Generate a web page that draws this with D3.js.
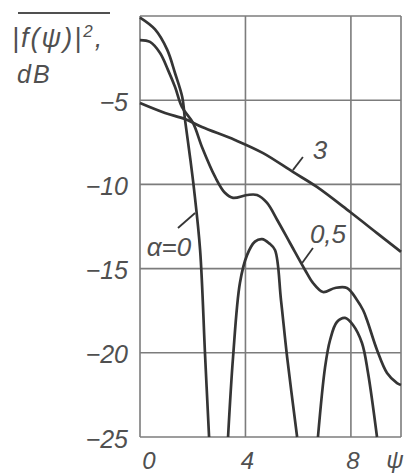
<!DOCTYPE html>
<html>
<head>
<meta charset="utf-8">
<script src="https://cdn.jsdelivr.net/npm/d3@7"></script>
<style>
  html, body { margin: 0; padding: 0; background: #fff; }
  svg { display: block; }
  text { font-family: "Liberation Sans", Arial, sans-serif; font-style: italic; fill: #505050; }
</style>
</head>
<body>
<svg id="chart" width="404" height="475"></svg>
<script>
// ticks
const xTicks = [0, 4, 8];
const yTicks = [-5, -10, -15, -20, -25];
const yGrid = [0, -5, -10, -15, -20, -25];

// alpha = 0, main lobe and two side lobes (cut at -25 dB)
const a0MainPsi = [0, 0.57, 1.03, 1.33, 1.6, 1.71, 1.9, 2.05, 2.28, 2.47, 2.62];
const a0MainDb  = [-0.1, -0.8, -2.0, -3.4, -4.8, -6.2, -8.4, -10.3, -13.9, -20.2, -25];
const a0Lobe1Psi = [3.34, 3.53, 3.79, 4.06, 4.36, 4.63, 4.9, 5.12, 5.35, 5.58, 5.96];
const a0Lobe1Db  = [-25, -20.25, -15.85, -14.2, -13.4, -13.25, -13.5, -13.9, -16.9, -20.25, -25];
const a0Lobe2Psi = [6.75, 7.02, 7.21, 7.47, 7.78, 8.08, 8.42, 8.65, 8.99];
const a0Lobe2Db  = [-25, -20.85, -19.24, -18.17, -17.93, -18.35, -19.42, -21.2, -25];

// alpha = 0.5
const a05Psi = [0, 0.38, 0.76, 1.06, 1.33, 1.59, 2.01, 2.35, 2.85, 3.22, 3.53, 4.06, 4.44, 4.82, 5.2,
                5.69, 6.26, 6.56, 6.94, 7.4, 7.85, 8.23, 8.46, 8.61, 8.99, 9.37, 9.75, 9.9];
const a05Db  = [-1.43, -1.54, -2.2, -3.2, -4.22, -5.4, -6.35, -7.78, -9.56, -10.5, -10.8, -10.63, -10.63, -11.1, -12.1,
                -13.48, -15.08, -15.85, -16.39, -16.15, -16.15, -16.86, -17.46, -18.05, -19.83, -21.2, -21.8, -21.91];

// alpha = 3
const a3Psi = [0, 0.95, 1.71, 2.35, 3.6, 4.67, 5.8, 6.71, 7.97, 8.99, 9.9];
const a3Db  = [-5.17, -5.76, -6.12, -6.59, -7.36, -8.14, -9.26, -10.15, -11.64, -12.89, -14.01];

// curve labels: text, label position, leader start, leader end (psi, dB)
const curveLabels = ["α=0", "0,5", "3"];
const labelPsi = [1.1, 7.13, 6.83];
const labelDb  = [-13.7, -12.95, -7.96];
const leaderPsi0 = [2.09, 6.15, 5.8];
const leaderDb0  = [-11.7, -14.67, -9.15];
const leaderPsi1 = [1.44, 6.56, 6.18];
const leaderDb1  = [-12.59, -13.78, -8.37];

const svg = d3.select("#chart");
const plotLeft = 140, plotRight = 401, plotTop = 16, plotBottom = 437;

const x = d3.scaleLinear().domain([0, 9.9]).range([plotLeft, plotRight]);
const y = d3.scaleLinear().domain([-25, 0]).range([plotBottom, plotTop]);

const gridColor = "#7c7c7c";
const curveColor = "#353535";

// grid lines
svg.append("g").selectAll("line")
    .data(xTicks)
    .join("line")
    .attr("x1", d => x(d)).attr("x2", d => x(d))
    .attr("y1", plotTop).attr("y2", plotBottom)
    .attr("stroke", gridColor).attr("stroke-width", 1.6);

svg.append("g").selectAll("line")
    .data(yGrid)
    .join("line")
    .attr("x1", plotLeft).attr("x2", plotRight)
    .attr("y1", d => y(d)).attr("y2", d => y(d))
    .attr("stroke", gridColor).attr("stroke-width", 1.6);

// right border of frame
svg.append("line")
    .attr("x1", plotRight).attr("x2", plotRight)
    .attr("y1", plotTop).attr("y2", plotBottom)
    .attr("stroke", gridColor).attr("stroke-width", 1.6);

// y axis labels
const yAxis = svg.append("g")
    .attr("transform", `translate(${plotLeft},0)`)
    .call(d3.axisLeft(y).tickValues(yTicks).tickSize(0).tickPadding(12)
        .tickFormat(d => "−" + Math.abs(d)));
yAxis.select(".domain").remove();
yAxis.selectAll("text")
    .attr("font-size", 25)
    .attr("font-family", null)
    .attr("fill", null)
    .attr("dy", "0.4em");

// x axis labels
svg.append("g").selectAll("text")
    .data(xTicks)
    .join("text")
    .attr("x", d => x(d) + (d === 0 ? 9 : 2))
    .attr("y", 469)
    .attr("text-anchor", "middle")
    .attr("font-size", 24)
    .text(d => d);

svg.append("text")
    .attr("x", 395).attr("y", 468)
    .attr("text-anchor", "middle")
    .attr("font-size", 24)
    .text("ψ");

// y axis title with overbar
svg.append("text")
    .attr("x", 12).attr("y", 47)
    .attr("font-size", 27)
    .attr("letter-spacing", 2)
    .html('|f(ψ)|<tspan dy="-10" font-size="17">2</tspan><tspan dy="10">,</tspan>');
svg.append("line")
    .attr("x1", 18).attr("x2", 110)
    .attr("y1", 13).attr("y2", 13)
    .attr("stroke", "#505050").attr("stroke-width", 1.8);
svg.append("text")
    .attr("x", 17).attr("y", 83)
    .attr("font-size", 25)
    .attr("letter-spacing", 2)
    .text("dB");

// curves
const line = d3.line()
    .x(d => x(d[0]))
    .y(d => y(d[1]))
    .curve(d3.curveCatmullRom.alpha(0.5));

const series = [
    [a0MainPsi, a0MainDb],
    [a0Lobe1Psi, a0Lobe1Db],
    [a0Lobe2Psi, a0Lobe2Db],
    [a05Psi, a05Db],
    [a3Psi, a3Db]
];

svg.append("g").selectAll("path")
    .data(series.map(s => s[0].map((p, i) => [p, s[1][i]])))
    .join("path")
    .attr("d", line)
    .attr("fill", "none")
    .attr("stroke", curveColor)
    .attr("stroke-width", 2.7)
    .attr("stroke-linejoin", "round");

// leader lines and curve labels
svg.append("g").selectAll("line")
    .data(curveLabels)
    .join("line")
    .attr("x1", (d, i) => x(leaderPsi0[i])).attr("y1", (d, i) => y(leaderDb0[i]))
    .attr("x2", (d, i) => x(leaderPsi1[i])).attr("y2", (d, i) => y(leaderDb1[i]))
    .attr("stroke", curveColor).attr("stroke-width", 1.8);

svg.append("g").selectAll("text")
    .data(curveLabels)
    .join("text")
    .attr("x", (d, i) => x(labelPsi[i]))
    .attr("y", (d, i) => y(labelDb[i]))
    .attr("dy", "0.36em")
    .attr("text-anchor", "middle")
    .attr("font-size", 26)
    .text(d => d);
</script>
</body>
</html>
